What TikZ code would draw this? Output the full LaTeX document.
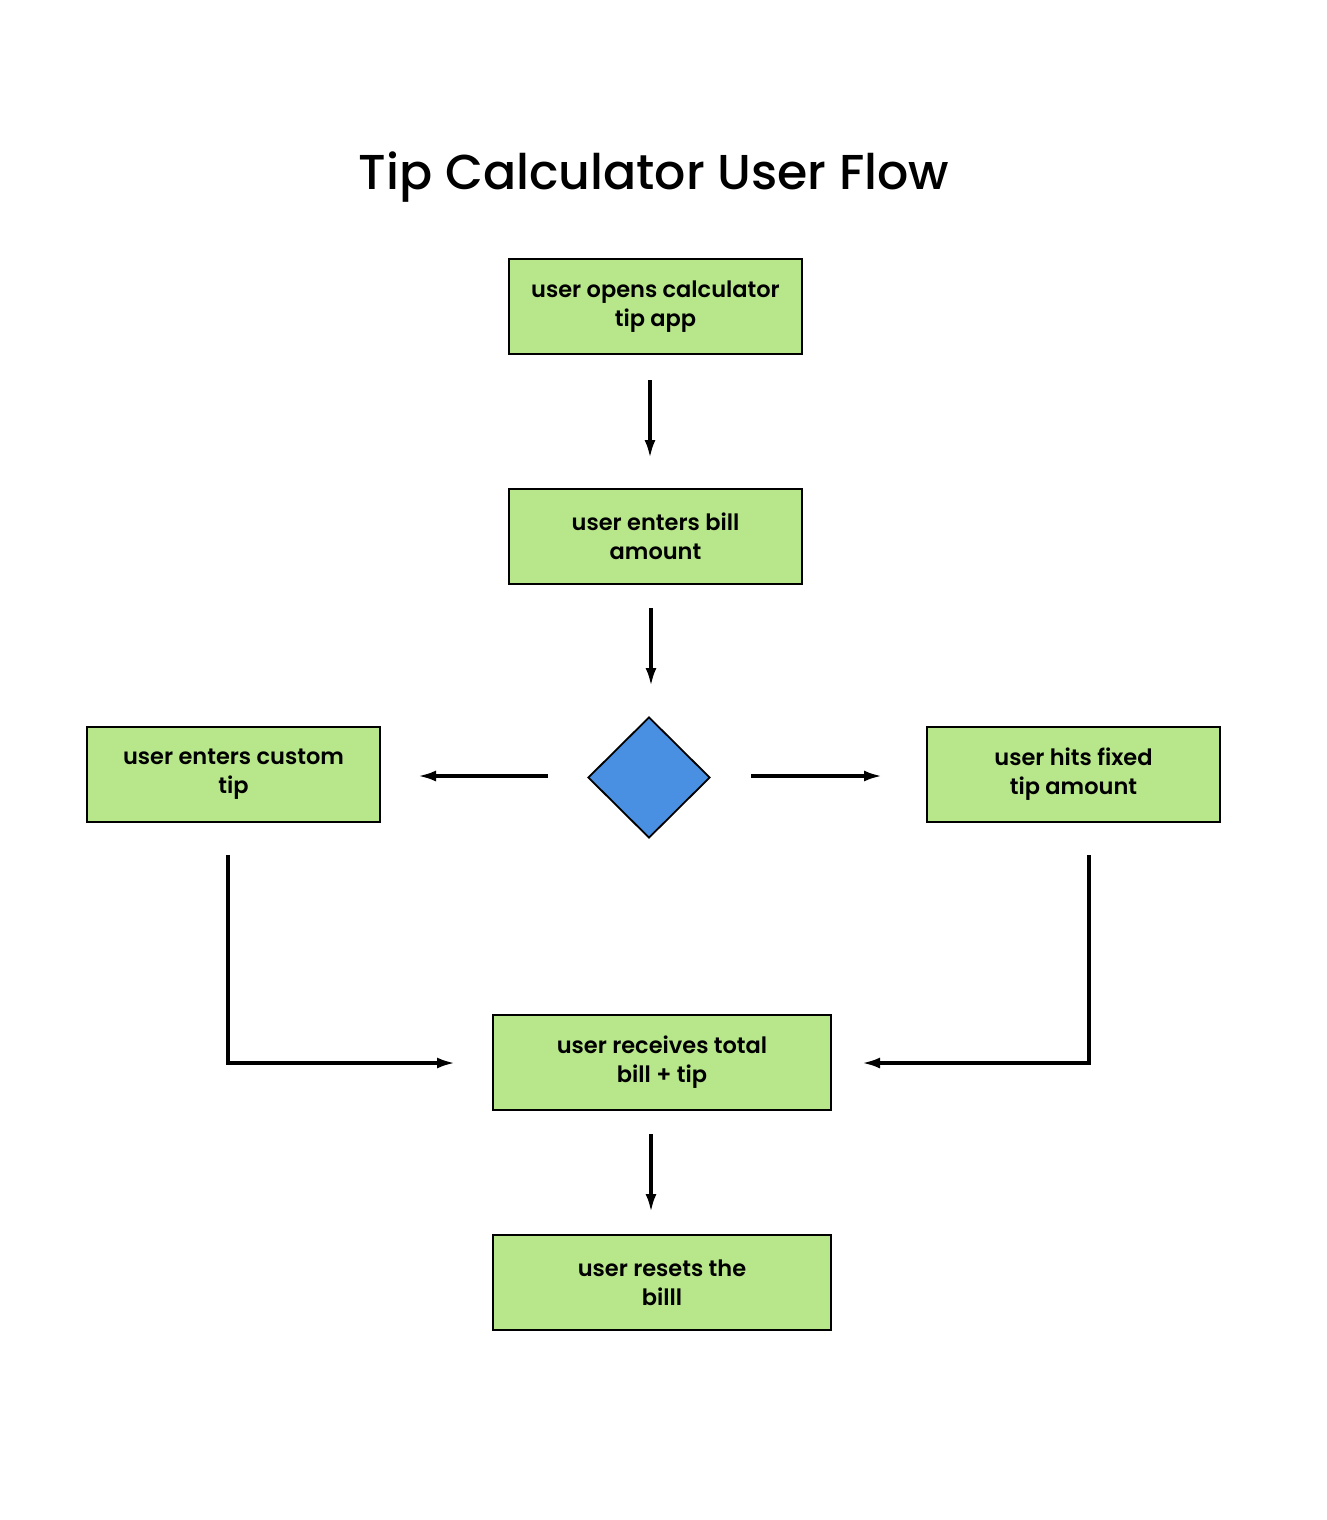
\documentclass[tikz,border=0pt]{standalone}
\usepackage{fontspec}
\setmainfont{Poppins}
\newfontfamily\medfont{Poppins Medium}
\newfontfamily\semifont{Poppins SemiBold}
\usetikzlibrary{arrows.meta,shapes.geometric}
\definecolor{boxgreen}{HTML}{B8E68A}
\definecolor{decblue}{HTML}{4A90E2}
\begin{document}
\begin{tikzpicture}[x=1pt,y=-1pt,
  stepbox/.style={draw=black, line width=2.2pt, fill=boxgreen, minimum width=293pt, minimum height=95pt, inner sep=0pt, align=center, font=\fontsize{22.5}{29}\semifont},
  widebox/.style={stepbox, minimum width=338pt},
  decision/.style={diamond, draw=black, line width=1.8pt, fill=decblue, minimum width=122pt, minimum height=121pt, inner sep=0pt},
  conn/.style={line width=3.3pt, -{Latex[length=18pt,width=11pt]}}]
\useasboundingbox (0,0) rectangle (1326,1520);
\node[font=\fontsize{49}{52}\medfont] (title) at (654,177) {Tip Calculator User Flow};
\node[stepbox] (open) at (655.5,306.5) {user opens calculator\\tip app};
\node[stepbox] (bill) at (655.5,536.5) {user enters bill\\amount};
\node[decision] (dec) at (649,777.5) {};
\node[stepbox] (custom) at (233.5,774.5) {user enters custom\\tip};
\node[stepbox] (fixed) at (1073.5,774.5) {user hits fixed\\tip amount};
\node[widebox] (total) at (662,1062.5) {user receives total\\bill + tip};
\node[widebox] (reset) at (662,1282.5) {user resets the\\billl};
\coordinate (a1s) at (650,380); \coordinate (a1e) at (650,458);
\coordinate (a2s) at (651,608); \coordinate (a2e) at (651,686);
\coordinate (l1s) at (548,776); \coordinate (l1e) at (418,776);
\coordinate (r1s) at (751,776); \coordinate (r1e) at (882,776);
\coordinate (l2s) at (228,855); \coordinate (l2e) at (455,1063);
\coordinate (r2s) at (1089,855); \coordinate (r2e) at (862,1063);
\coordinate (a3s) at (651,1134); \coordinate (a3e) at (651,1212);
\draw[conn] (a1s) -- (a1e);
\draw[conn] (a2s) -- (a2e);
\draw[conn] (l1s) -- (l1e);
\draw[conn] (r1s) -- (r1e);
\draw[conn] (l2s) |- (l2e);
\draw[conn] (r2s) |- (r2e);
\draw[conn] (a3s) -- (a3e);
\end{tikzpicture}
\end{document}
